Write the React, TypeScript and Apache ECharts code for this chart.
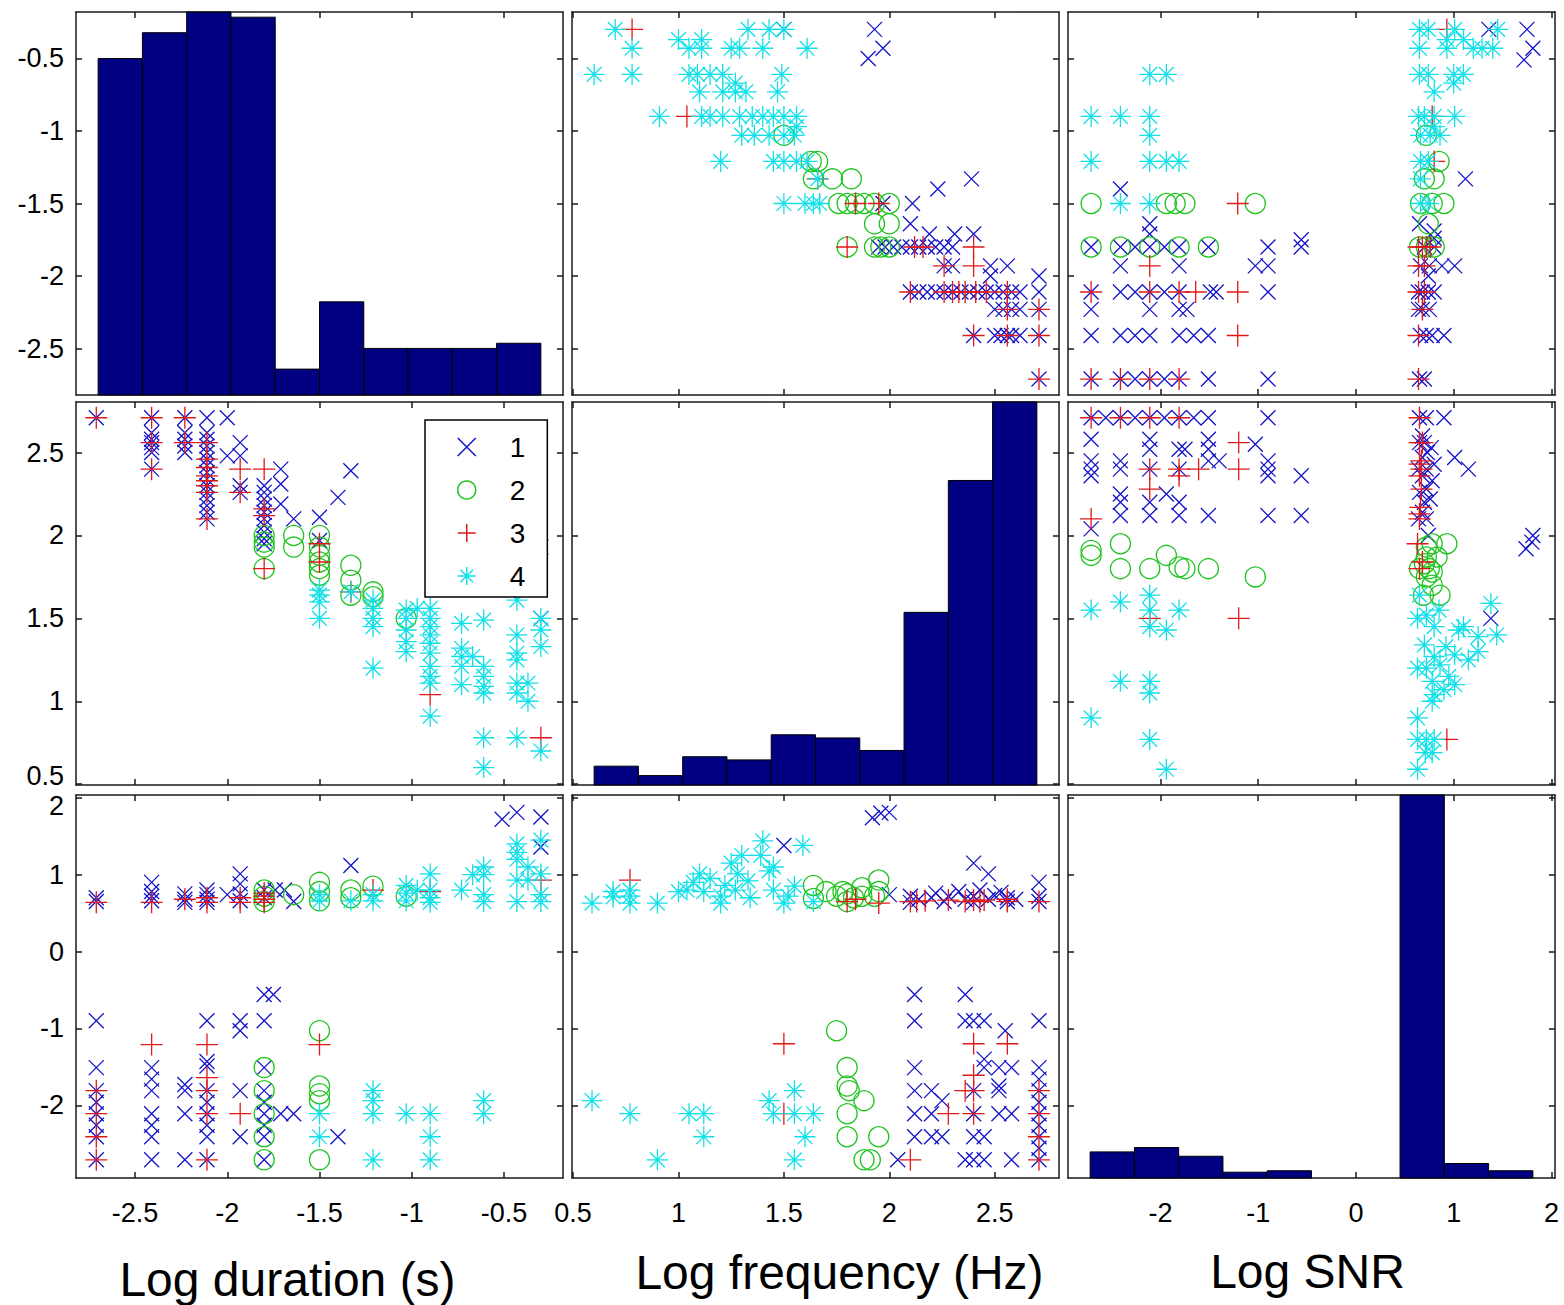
import React, { useEffect, useRef } from "react";
import * as echarts from "echarts";

// ---------- labels ----------
const classNames = ["1", "2", "3", "4"];
const varNames = ["Log duration (s)", "Log frequency (Hz)", "Log SNR"];

// ---------- data extents of each variable ----------
const durRange = [-2.7, -0.3];
const freqRange = [0.6, 2.7];
const snrRange = [-2.72, 1.81];

// ---------- tick values ----------
const durTicks = [-2.5, -2, -1.5, -1, -0.5];
const freqTicks = [0.5, 1, 1.5, 2, 2.5];
const snrTicks = [-2, -1, 0, 1, 2];

// ---------- histogram counts (10 bins each) ----------
const durCounts = [65, 70, 74, 73, 5, 18, 9, 9, 9, 10];
const freqCounts = [6, 3, 9, 8, 16, 15, 11, 55, 97, 122];
const snrCounts = [18, 21, 15, 4, 5, 0, 0, 264, 10, 5];

// ---------- pair: [log duration, log frequency] ----------
const dfBlue = [
  [-2.71, 2.71],
  [-2.41, 2.71], [-2.41, 2.62], [-2.41, 2.58], [-2.41, 2.56], [-2.41, 2.53], [-2.41, 2.5], [-2.41, 2.4],
  [-2.23, 2.71], [-2.23, 2.62], [-2.23, 2.58], [-2.23, 2.54], [-2.23, 2.5],
  [-2.11, 2.71], [-2.11, 2.62], [-2.11, 2.58], [-2.11, 2.54], [-2.11, 2.5], [-2.11, 2.46], [-2.11, 2.42],
  [-2.11, 2.38], [-2.11, 2.34], [-2.11, 2.3], [-2.11, 2.26], [-2.11, 2.22], [-2.11, 2.18], [-2.11, 2.14], [-2.11, 2.1],
  [-2.0, 2.71], [-2.0, 2.48],
  [-1.93, 2.56], [-1.93, 2.48], [-1.93, 2.3], [-1.93, 2.26],
  [-1.8, 2.3], [-1.8, 2.26], [-1.8, 2.22], [-1.8, 2.18], [-1.8, 2.14], [-1.8, 2.1], [-1.8, 2.06], [-1.8, 2.02], [-1.8, 1.98], [-1.8, 1.95],
  [-1.71, 2.4], [-1.71, 2.31], [-1.71, 2.19],
  [-1.64, 2.1],
  [-1.5, 2.11], [-1.5, 1.97],
  [-1.4, 2.23],
  [-1.33, 2.39],
  [-0.3, 1.5], [-0.3, 1.93], [-0.43, 1.97], [-0.5, 1.9],
];
const dfGreen = [
  [-1.8, 2.0], [-1.8, 1.96], [-1.8, 1.93], [-1.8, 1.8],
  [-1.64, 2.0], [-1.64, 1.93],
  [-1.5, 2.0], [-1.5, 1.93], [-1.5, 1.88], [-1.5, 1.84], [-1.5, 1.8], [-1.5, 1.76],
  [-1.33, 1.82], [-1.33, 1.73], [-1.33, 1.64],
  [-1.21, 1.66], [-1.21, 1.63],
  [-1.03, 1.5],
];
const dfRed = [
  [-2.71, 2.71], [-2.41, 2.71], [-2.41, 2.56], [-2.41, 2.4], [-2.23, 2.71], [-2.23, 2.56],
  [-2.11, 2.56], [-2.11, 2.46], [-2.11, 2.41], [-2.11, 2.36], [-2.11, 2.33], [-2.11, 2.3], [-2.11, 2.26], [-2.11, 2.1],
  [-1.93, 2.4], [-1.93, 2.26],
  [-1.8, 2.4], [-1.8, 2.16], [-1.8, 2.12], [-1.8, 1.8],
  [-1.5, 1.95], [-1.5, 1.84],
  [-1.33, 1.66],
  [-0.9, 1.04], [-0.3, 0.78],
];
const dfCyan = [
  [-1.5, 1.67], [-1.5, 1.64], [-1.5, 1.6], [-1.5, 1.5],
  [-1.33, 1.66],
  [-1.21, 1.61], [-1.21, 1.56], [-1.21, 1.5], [-1.21, 1.45], [-1.21, 1.2],
  [-1.03, 1.55], [-1.03, 1.5], [-1.03, 1.43], [-1.03, 1.36], [-1.03, 1.3],
  [-0.97, 1.56],
  [-0.9, 1.56], [-0.9, 1.5], [-0.9, 1.45], [-0.9, 1.4], [-0.9, 1.35], [-0.9, 1.29], [-0.9, 1.21], [-0.9, 1.15], [-0.9, 1.11], [-0.9, 0.91],
  [-0.73, 1.47], [-0.73, 1.32], [-0.73, 1.27], [-0.73, 1.21], [-0.73, 1.1],
  [-0.67, 1.27],
  [-0.61, 1.49], [-0.61, 1.21], [-0.61, 1.15], [-0.61, 1.09], [-0.61, 1.05], [-0.61, 0.78], [-0.61, 0.6],
  [-0.43, 1.61], [-0.43, 1.4], [-0.43, 1.29], [-0.43, 1.25], [-0.43, 1.11], [-0.43, 1.05], [-0.43, 0.78],
  [-0.37, 1.11], [-0.37, 1.0],
  [-0.3, 1.5], [-0.3, 1.43], [-0.3, 1.33], [-0.3, 0.7],
];

// ---------- pair: [log duration, log SNR] ----------
const dsBlue = [
  [-2.71, 0.65], [-2.71, 0.7],
  [-2.41, 0.9], [-2.41, 0.78], [-2.41, 0.72], [-2.41, 0.66],
  [-2.23, 0.75], [-2.23, 0.68], [-2.23, 0.64],
  [-2.11, 0.8], [-2.11, 0.74], [-2.11, 0.68], [-2.11, 0.64],
  [-2.0, 0.74],
  [-1.93, 1.01], [-1.93, 0.88], [-1.93, 0.75], [-1.93, 0.66],
  [-1.8, 0.8], [-1.8, 0.7],
  [-1.74, 0.8], [-1.69, 0.8],
  [-1.64, 0.65],
  [-1.33, 1.12],
  [-0.51, 1.72], [-0.43, 1.81], [-0.3, 1.75], [-0.3, 1.36],
  [-2.71, -0.9], [-2.71, -1.51], [-2.71, -1.81], [-2.71, -1.96], [-2.71, -2.11], [-2.71, -2.26], [-2.71, -2.41], [-2.71, -2.71],
  [-2.41, -1.51], [-2.41, -1.66], [-2.41, -1.81], [-2.41, -2.11], [-2.41, -2.26], [-2.41, -2.41], [-2.41, -2.71],
  [-2.23, -1.73], [-2.23, -1.81], [-2.23, -2.11], [-2.23, -2.71],
  [-2.11, -0.9], [-2.11, -1.43], [-2.11, -1.49], [-2.11, -1.81], [-2.11, -1.96], [-2.11, -2.11], [-2.11, -2.26], [-2.11, -2.41], [-2.11, -2.71],
  [-1.93, -0.9], [-1.93, -1.03], [-1.93, -1.81], [-1.93, -2.41],
  [-1.8, -0.56], [-1.8, -0.9], [-1.8, -1.51], [-1.8, -1.81], [-1.8, -1.96], [-1.8, -2.11], [-1.8, -2.26], [-1.8, -2.41], [-1.8, -2.71],
  [-1.75, -0.56], [-1.71, -2.11], [-1.64, -2.11], [-1.4, -2.41],
];
const dsGreen = [
  [-1.8, 0.65], [-1.8, 0.72], [-1.8, 0.8], [-1.64, 0.74], [-1.5, 0.9], [-1.5, 0.78], [-1.5, 0.66],
  [-1.33, 0.8], [-1.33, 0.7], [-1.21, 0.85], [-1.03, 0.72],
  [-1.8, -1.51], [-1.8, -1.81], [-1.8, -2.11], [-1.8, -2.41], [-1.8, -2.71],
  [-1.5, -1.03], [-1.5, -1.75], [-1.5, -1.85], [-1.5, -1.94], [-1.5, -2.71],
];
const dsRed = [
  [-2.71, 0.64], [-2.41, 0.64], [-2.23, 0.68], [-2.11, 0.64], [-2.11, 0.7], [-1.93, 0.7], [-1.93, 0.64],
  [-1.8, 0.64], [-1.8, 0.68], [-1.8, 0.72], [-1.8, 0.76], [-1.21, 0.8], [-0.9, 0.78], [-0.3, 0.93],
  [-2.71, -1.81], [-2.71, -2.11], [-2.71, -2.41], [-2.71, -2.71], [-2.41, -1.21],
  [-2.11, -1.21], [-2.11, -1.64], [-2.11, -1.81], [-2.11, -2.11], [-2.11, -2.71], [-1.93, -2.11], [-1.5, -1.21],
];
const dsCyan = [
  [-1.5, 0.74], [-1.5, 0.66], [-1.33, 0.66], [-1.21, 0.74], [-1.21, 0.66], [-1.03, 0.86], [-1.03, 0.76], [-1.03, 0.66],
  [-0.97, 0.8], [-0.9, 1.01], [-0.9, 0.8], [-0.9, 0.7], [-0.9, 0.64], [-0.73, 0.8], [-0.67, 1.0],
  [-0.61, 1.1], [-0.61, 1.0], [-0.61, 0.74], [-0.61, 0.65],
  [-0.43, 1.4], [-0.43, 1.29], [-0.43, 1.2], [-0.43, 0.93], [-0.43, 0.65], [-0.37, 1.1], [-0.37, 0.93],
  [-0.3, 1.45], [-0.3, 1.01], [-0.3, 0.74], [-0.3, 0.65],
  [-1.5, -2.11], [-1.5, -2.41], [-1.21, -1.81], [-1.21, -1.94], [-1.21, -2.11], [-1.21, -2.71], [-1.03, -2.11],
  [-0.9, -2.11], [-0.9, -2.41], [-0.9, -2.71], [-0.61, -1.94], [-0.61, -2.11],
];

// ---------- pair: [log frequency, log SNR] ----------
const fsBlue = [
  [2.1, 0.64], [2.1, 0.72], [2.14, 0.68], [2.2, 0.7], [2.22, 0.76], [2.26, 0.65], [2.28, 0.72], [2.33, 0.78],
  [2.36, 0.68], [2.4, 0.72], [2.4, 0.64], [2.43, 0.8], [2.47, 0.68], [2.5, 0.73], [2.53, 0.77], [2.56, 0.65],
  [2.56, 0.7], [2.6, 0.68], [2.71, 0.65], [2.71, 0.72], [2.71, 0.9], [2.4, 1.15], [2.47, 1.01], [2.0, 0.74],
  [1.5, 1.38], [1.92, 1.74], [1.96, 1.8], [2.0, 1.81],
  [2.04, -2.71], [2.12, -0.56], [2.12, -0.9], [2.12, -1.51], [2.12, -1.81], [2.12, -2.11], [2.12, -2.41],
  [2.2, -1.81], [2.2, -2.11], [2.2, -2.41], [2.25, -1.94], [2.25, -2.41],
  [2.36, -0.56], [2.36, -0.9], [2.36, -2.71], [2.4, -0.9], [2.4, -1.81], [2.4, -2.11], [2.4, -2.41], [2.4, -2.71],
  [2.45, -0.9], [2.45, -1.4], [2.45, -1.51], [2.45, -2.41], [2.45, -2.71],
  [2.52, -1.51], [2.52, -1.75], [2.52, -1.81], [2.52, -2.11], [2.55, -1.03], [2.58, -1.51], [2.58, -2.11], [2.58, -2.71],
  [2.71, -0.9], [2.71, -1.51], [2.71, -1.66], [2.71, -1.81], [2.71, -1.96], [2.71, -2.11], [2.71, -2.26],
  [2.71, -2.41], [2.71, -2.56], [2.71, -2.71],
];
const fsGreen = [
  [1.64, 0.86], [1.64, 0.69], [1.7, 0.78], [1.75, 0.72], [1.78, 0.78], [1.8, 0.75], [1.8, 0.65], [1.83, 0.7],
  [1.87, 0.83], [1.87, 0.72], [1.93, 0.72], [1.95, 0.93], [1.95, 0.78],
  [1.75, -1.03], [1.8, -1.51], [1.8, -1.75], [1.81, -1.81], [1.88, -1.94], [1.8, -2.11], [1.8, -2.41],
  [1.95, -2.41], [1.88, -2.71], [1.91, -2.71],
];
const fsRed = [
  [0.77, 0.93], [1.8, 0.65], [1.84, 0.68], [1.95, 0.63], [2.1, 0.65], [2.13, 0.65], [2.17, 0.66], [2.28, 0.67],
  [2.36, 0.65], [2.4, 0.67], [2.43, 0.65], [2.45, 0.67], [2.56, 0.65], [2.56, 0.68], [2.71, 0.65],
  [1.5, -1.2], [1.5, -2.11], [2.1, -2.71], [2.28, -2.11], [2.36, -1.81], [2.4, -1.2], [2.4, -1.61], [2.4, -1.81],
  [2.4, -2.11], [2.56, -1.2], [2.71, -1.81], [2.71, -2.11], [2.71, -2.41], [2.71, -2.71],
];
const fsCyan = [
  [0.59, 0.63], [0.69, 0.71], [0.69, 0.78], [0.77, 0.63], [0.77, 0.72], [0.77, 0.8], [0.9, 0.63], [1.0, 0.78],
  [1.04, 0.8], [1.07, 0.9], [1.1, 1.01], [1.12, 0.78], [1.15, 0.95], [1.2, 0.63], [1.2, 0.72], [1.22, 0.86],
  [1.25, 1.15], [1.27, 0.8], [1.28, 1.01], [1.3, 1.25], [1.33, 0.92], [1.34, 0.7], [1.39, 1.25], [1.4, 1.44],
  [1.43, 1.05], [1.45, 0.8], [1.45, 1.1], [1.5, 0.63], [1.52, 0.72], [1.55, 0.85], [1.59, 1.38], [1.64, 0.65],
  [0.59, -1.94], [0.77, -2.11], [0.9, -2.71], [1.05, -2.11], [1.12, -2.11], [1.12, -2.41], [1.43, -1.94],
  [1.45, -2.11], [1.55, -1.81], [1.55, -2.11], [1.6, -2.41], [1.55, -2.71], [1.64, -2.11],
];

// ---------- styling ----------
const FONT = "'Liberation Sans', Arial, Helvetica, sans-serif";
const COLORS = ["#1414c8", "#1ec41e", "#e01818", "#10e0e8"];
const X_PATH = "path://M0,0L10,10M10,0L0,10";
const PLUS_PATH = "path://M5,0L5,10M0,5L10,5";
const STAR_PATH = "path://M5,0L5,10M0,5L10,5M1.5,1.5L8.5,8.5M8.5,1.5L1.5,8.5";
const SYMBOLS = [X_PATH, "circle", PLUS_PATH, STAR_PATH];
const SIZES = [15, 20, 22, 21];
const HIST_COLOR = "#000080";
const AXIS_COLOR = "#1a1a1a";

const gridLeft = [76, 572, 1068];
const gridTop = [12, 402, 795];
const GW = 487;
const GH = 383;

function padLim(r: number[]) {
  const d = (r[1] - r[0]) * 0.05;
  return [r[0] - d, r[1] + d];
}

const ranges = [durRange, freqRange, snrRange];
const ticks = [durTicks, freqTicks, snrTicks];
const counts = [durCounts, freqCounts, snrCounts];
const pairData: Record<string, number[][][]> = {
  "0-1": [dfBlue, dfGreen, dfRed, dfCyan],
  "0-2": [dsBlue, dsGreen, dsRed, dsCyan],
  "1-2": [fsBlue, fsGreen, fsRed, fsCyan],
};
const nameGaps = [77, 70, 69];
const namePads = [
  [0, 64, 0, 0],
  [0, 0, 0, 48],
  [0, 8, 0, 0],
];

function buildOption() {
  const grid: any[] = [];
  const xAxis: any[] = [];
  const yAxis: any[] = [];
  const series: any[] = [];
  const lineStyle = { color: AXIS_COLOR, width: 1.5 };
  const labelStyle = { fontSize: 27, color: "#000", fontFamily: FONT };

  for (let r = 0; r < 3; r++) {
    for (let c = 0; c < 3; c++) {
      const g = r * 3 + c;
      grid.push({ left: gridLeft[c], top: gridTop[r], width: GW, height: GH, containLabel: false });
      const xl = padLim(ranges[c]);
      const yl = padLim(ranges[r]);
      ["bottom", "top"].forEach((pos) => {
        const isMain = pos === "bottom";
        xAxis.push({
          type: "value",
          gridIndex: g,
          position: pos,
          min: xl[0],
          max: xl[1],
          axisLine: { show: true, onZero: false, lineStyle },
          axisTick: { show: true, inside: true, length: 6, customValues: ticks[c], lineStyle },
          axisLabel: { show: isMain && r === 2, customValues: ticks[c], margin: 21, ...labelStyle },
          splitLine: { show: false },
          name: isMain && r === 2 ? varNames[c] : "",
          nameLocation: "middle",
          nameGap: nameGaps[c],
          nameTextStyle: { fontSize: 48, color: "#000", fontFamily: FONT, padding: namePads[c] },
        });
      });
      ["left", "right"].forEach((pos) => {
        const isMain = pos === "left";
        const yLabel: any = { show: isMain && c === 0, customValues: ticks[r], margin: 12, ...labelStyle };
        if (r === 1) {
          // lowest label of the middle row sits on the panel edge; lift it a little
          yLabel.formatter = (v: number) => (v === ticks[1][0] ? `{lo|${v}}` : `${v}`);
          yLabel.rich = { lo: { ...labelStyle, padding: [0, 0, 17, 0] } };
        }
        if (r === 2) {
          // top label of the bottom row sits on the panel edge; drop it a little
          yLabel.formatter = (v: number) => (v === ticks[2][ticks[2].length - 1] ? `{hi|${v}}` : `${v}`);
          yLabel.rich = { hi: { ...labelStyle, padding: [17, 0, 0, 0] } };
        }
        yAxis.push({
          type: "value",
          gridIndex: g,
          position: pos,
          min: yl[0],
          max: yl[1],
          axisLine: { show: true, onZero: false, lineStyle },
          axisTick: { show: true, inside: true, length: 6, customValues: ticks[r], lineStyle },
          axisLabel: yLabel,
          splitLine: { show: false },
        });
      });
    }
  }

  // scatter panels
  for (let r = 0; r < 3; r++) {
    for (let c = 0; c < 3; c++) {
      if (r === c) continue;
      const g = r * 3 + c;
      const a = Math.min(r, c);
      const b = Math.max(r, c);
      const sets = pairData[`${a}-${b}`];
      const swap = c > r;
      sets.forEach((pts, k) => {
        series.push({
          type: "scatter",
          name: classNames[k],
          xAxisIndex: 2 * g,
          yAxisIndex: 2 * g,
          data: swap ? pts.map((p) => [p[1], p[0]]) : pts,
          symbol: SYMBOLS[k],
          symbolSize: SIZES[k],
          itemStyle: { color: "rgba(0,0,0,0)", borderColor: COLORS[k], borderWidth: 1.3, opacity: 1 },
          emphasis: { disabled: true },
          silent: true,
          clip: true,
          z: 2 + k * 0.01,
        });
      });
    }
  }

  // histogram panels (hidden count axes)
  for (let i = 0; i < 3; i++) {
    const g = i * 3 + i;
    const maxCount = Math.max(...counts[i]);
    yAxis.push({ type: "value", gridIndex: g, min: 0, max: maxCount, show: false, splitLine: { show: false } });
    const cntAxisIndex = yAxis.length - 1;
    const lo = ranges[i][0];
    const w = (ranges[i][1] - ranges[i][0]) / counts[i].length;
    const data = counts[i].map((n, j) => [lo + j * w, lo + (j + 1) * w, n]);
    series.push({
      type: "custom",
      xAxisIndex: 2 * g,
      yAxisIndex: cntAxisIndex,
      data,
      encode: { x: [0, 1], y: 2 },
      silent: true,
      renderItem: (params: any, api: any) => {
        const n = api.value(2);
        if (!n) return null;
        const p0 = api.coord([api.value(0), 0]);
        const p1 = api.coord([api.value(1), n]);
        return {
          type: "rect",
          shape: { x: p0[0], y: p1[1], width: p1[0] - p0[0], height: p0[1] - p1[1] },
          style: { fill: HIST_COLOR, stroke: "#000", lineWidth: 1 },
        };
      },
    });
  }

  const legend = {
    orient: "vertical",
    left: 425,
    top: 420,
    backgroundColor: "#fff",
    borderColor: "#000",
    borderWidth: 1.5,
    padding: [13, 22, 7, 32],
    itemGap: 15,
    itemWidth: 18,
    itemHeight: 18,
    selectedMode: false,
    textStyle: { fontSize: 28, color: "#000", fontFamily: FONT, padding: [0, 0, 0, 29], lineHeight: 20 },
    data: classNames.map((n, k) => ({
      name: n,
      icon: SYMBOLS[k],
      itemStyle: { color: "rgba(0,0,0,0)", borderColor: COLORS[k], borderWidth: 1.5 },
    })),
    z: 10,
  };

  return {
    animation: false,
    backgroundColor: "#fff",
    grid,
    xAxis,
    yAxis,
    legend,
    series,
  };
}

export default function App() {
  const ref = useRef<HTMLDivElement>(null);
  useEffect(() => {
    if (!ref.current) return;
    const chart = echarts.init(ref.current, null, { renderer: "svg" });
    chart.setOption(buildOption() as any);
    return () => chart.dispose();
  }, []);
  return (
    <div
      ref={ref}
      style={{ position: "absolute", left: 0, top: 0, width: 1564, height: 1305, background: "#fff" }}
    />
  );
}
